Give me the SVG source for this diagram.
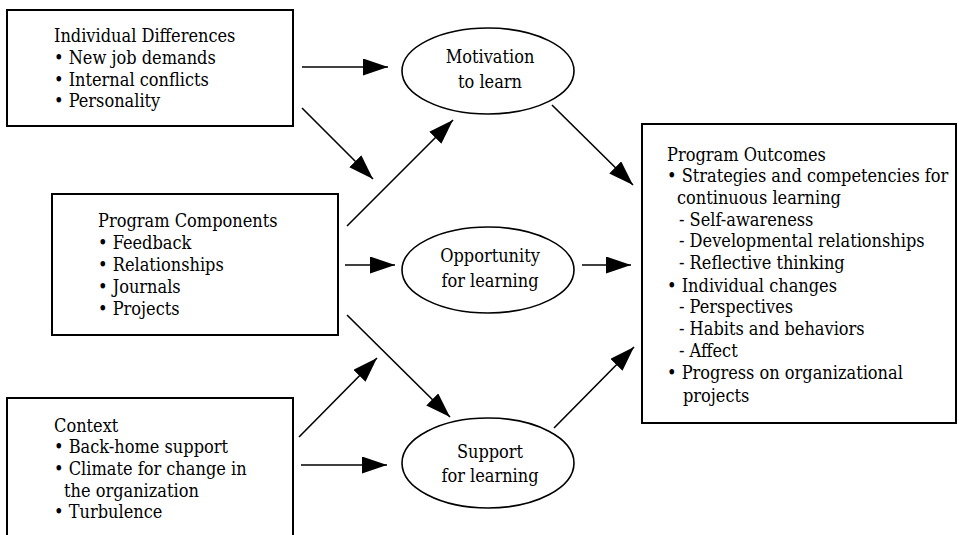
<svg xmlns="http://www.w3.org/2000/svg" width="959" height="535" viewBox="0 0 959 535">
<style>
  .box { fill: #fff; stroke: #000; stroke-width: 2; }
  .ell { fill: #fff; stroke: #000; stroke-width: 1.6; }
  .t { font-family: "DejaVu Serif Condensed", "DejaVu Serif", serif; font-stretch: condensed; font-size: 18px; fill: #000; }
  .c { text-anchor: middle; }
  .conn line { stroke: #000; stroke-width: 1.6; marker-end: url(#ah); }
</style>
<defs>
  <marker id="ah" markerUnits="userSpaceOnUse" markerWidth="26" markerHeight="18" refX="25" refY="8.5" orient="auto">
    <path d="M0,0 L25,8.5 L0,17 z" fill="#000"/>
  </marker>
</defs>
<rect width="959" height="535" fill="#fff"/>

<g id="individual-differences">
  <rect class="box" x="7" y="10" width="286" height="116"/>
  <text class="t" x="54" y="42">Individual Differences</text>
  <text class="t" x="54" y="64">• New job demands</text>
  <text class="t" x="54" y="86">• Internal conflicts</text>
  <text class="t" x="54" y="107">• Personality</text>
</g>

<g id="program-components">
  <rect class="box" x="52" y="194" width="286" height="141"/>
  <text class="t" x="98" y="227">Program Components</text>
  <text class="t" x="98" y="249">• Feedback</text>
  <text class="t" x="98" y="271">• Relationships</text>
  <text class="t" x="98" y="293">• Journals</text>
  <text class="t" x="98" y="315">• Projects</text>
</g>

<g id="context">
  <rect class="box" x="7" y="398" width="286" height="150"/>
  <text class="t" x="54" y="432">Context</text>
  <text class="t" x="54" y="453">• Back-home support</text>
  <text class="t" x="54" y="475">• Climate for change in</text>
  <text class="t" x="64" y="497">the organization</text>
  <text class="t" x="54" y="518">• Turbulence</text>
</g>

<g id="motivation">
  <ellipse class="ell" cx="488" cy="71" rx="86" ry="43"/>
  <text class="t c" x="490" y="63">Motivation</text>
  <text class="t c" x="490" y="88">to learn</text>
</g>

<g id="opportunity">
  <ellipse class="ell" cx="488" cy="270" rx="86" ry="43"/>
  <text class="t c" x="490" y="262">Opportunity</text>
  <text class="t c" x="490" y="287">for learning</text>
</g>

<g id="support">
  <ellipse class="ell" cx="488" cy="463" rx="86" ry="45"/>
  <text class="t c" x="490" y="458">Support</text>
  <text class="t c" x="490" y="482">for learning</text>
</g>

<g id="program-outcomes">
  <rect class="box" x="642" y="124" width="314" height="299"/>
  <text class="t" x="667" y="161">Program Outcomes</text>
  <text class="t" x="667" y="182">• Strategies and competencies for</text>
  <text class="t" x="677" y="204">continuous learning</text>
  <text class="t" x="679" y="226">- Self-awareness</text>
  <text class="t" x="679" y="247">- Developmental relationships</text>
  <text class="t" x="679" y="269">- Reflective thinking</text>
  <text class="t" x="667" y="292">• Individual changes</text>
  <text class="t" x="679" y="313">- Perspectives</text>
  <text class="t" x="679" y="335">- Habits and behaviors</text>
  <text class="t" x="679" y="357">- Affect</text>
  <text class="t" x="667" y="379">• Progress on organizational</text>
  <text class="t" x="683" y="402">projects</text>
</g>

<g id="connectors" class="conn">
  <line x1="302" y1="67" x2="388" y2="67"/>
  <line x1="302" y1="108" x2="373" y2="179"/>
  <line x1="347" y1="226" x2="453" y2="120"/>
  <line x1="552" y1="105" x2="633" y2="185"/>
  <line x1="345" y1="265" x2="395" y2="265"/>
  <line x1="582" y1="265" x2="631" y2="265"/>
  <line x1="347" y1="315" x2="450" y2="417"/>
  <line x1="299" y1="437" x2="377" y2="358"/>
  <line x1="301" y1="465" x2="387" y2="465"/>
  <line x1="554" y1="428" x2="634" y2="347"/>
</g>
</svg>
